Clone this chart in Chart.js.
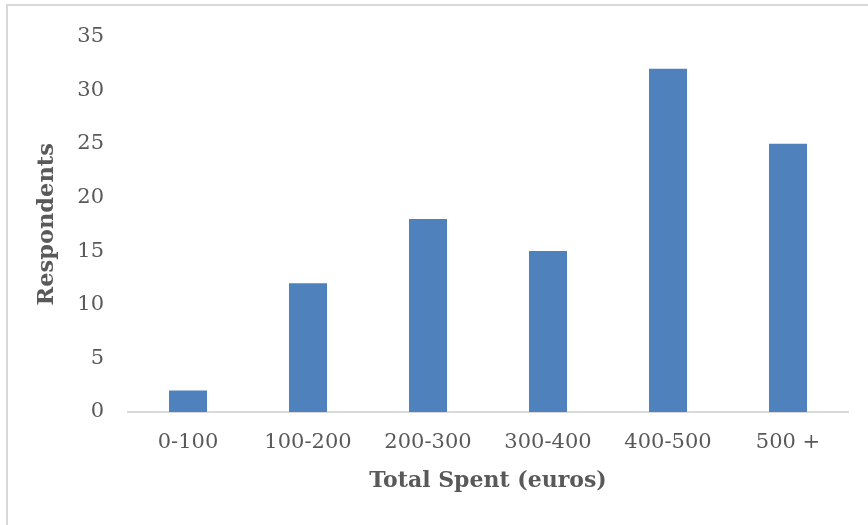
<!DOCTYPE html>
<html>
<head>
<meta charset="utf-8">
<script src="https://cdn.jsdelivr.net/npm/chart.js@4"></script>
<style>
  html, body { margin: 0; padding: 0; background: #fff; }
  #wrap { position: relative; width: 868px; height: 525px; }
  #frame {
    position: absolute; left: 6px; top: 4px; right: 0; bottom: 0;
    border-left: 2px solid #d9d9d9; border-top: 2px solid #d9d9d9;
  }
  canvas { position: absolute; left: 0; top: 0; }
</style>
</head>
<body>
<div id="wrap">
  <div id="frame"></div>
  <canvas id="spentChart" width="868" height="525"></canvas>
</div>
<script>
const categories = ['0-100', '100-200', '200-300', '300-400', '400-500', '500 +'];
const respondents = [2, 12, 18, 15, 32, 25];
const yTicks = [0, 5, 10, 15, 20, 25, 30, 35];

const textColor = '#595959';
const fontFamily = '"DejaVu Serif", serif';

new Chart(document.getElementById('spentChart'), {
  type: 'bar',
  data: {
    labels: categories,
    datasets: [{
      label: 'Respondents',
      data: respondents,
      backgroundColor: '#4f81bd',
      borderWidth: 0,
      categoryPercentage: 1,
      barPercentage: 0.317,
    }],
  },
  options: {
    responsive: false,
    animation: false,
    layout: { padding: { left: 8, right: 20, top: 34, bottom: 13 } },
    plugins: {
      legend: { display: false },
      tooltip: { enabled: false },
    },
    scales: {
      x: {
        grid: { display: false, drawTicks: false },
        border: { display: true, color: '#d9d9d9', width: 2 },
        ticks: { color: textColor, font: { family: fontFamily, size: 21 }, padding: 18 },
        title: {
          display: true,
          text: 'Total Spent (euros)',
          color: textColor,
          font: { family: fontFamily, size: 22, weight: 'bold' },
          padding: { top: 0, bottom: 18 },
        },
        afterFit: (scale) => { scale.height = 100; },
      },
      y: {
        min: 0,
        max: 35,
        afterBuildTicks: (scale) => { scale.ticks = yTicks.map(v => ({ value: v })); },
        grid: { display: false, drawTicks: false },
        border: { display: false },
        ticks: { color: textColor, font: { family: fontFamily, size: 21 }, padding: 24 },
        title: {
          display: true,
          text: 'Respondents',
          color: textColor,
          font: { family: fontFamily, size: 22.5, weight: 'bold' },
          padding: { top: 26, bottom: 0 },
        },
        afterFit: (scale) => { scale.width = 120; },
      },
    },
  },
});
</script>
</body>
</html>
